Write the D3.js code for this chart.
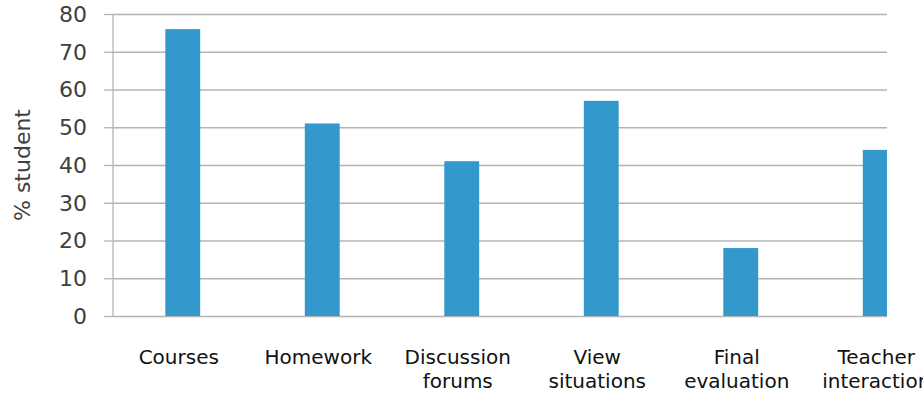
<!DOCTYPE html>
<html>
<head>
<meta charset="utf-8">
<script src="https://unpkg.com/d3@7/dist/d3.min.js"></script>
<style>
  body { margin: 0; background: #fff; }
  svg { display: block; }
</style>
</head>
<body>
<svg id="chart"></svg>
<script>
// categories and % of students
const categories = [
  ["Courses"],
  ["Homework"],
  ["Discussion", "forums"],
  ["View", "situations"],
  ["Final", "evaluation"],
  ["Teacher", "interaction"]
]
const values = [76, 51, 41, 57, 18, 44]
const yTicks = [0, 10, 20, 30, 40, 50, 60, 70, 80]

const width = 923
const height = 411
const plotLeft = 113
const plotTop = 14
const plotBottom = 316
// plot is cut at the right edge of the picture
const plotRight = 950
const clipRight = 887

const svg = d3.select('#chart')
    .attr('width', width)
    .attr('height', height)

const x = d3.scaleBand()
    .domain(d3.range(categories.length))
    .range([plotLeft, plotRight])
    .paddingInner(0.75)
    .paddingOuter(0.375)

const y = d3.scaleLinear()
    .domain([0, 80])
    .range([plotBottom, plotTop])

svg.append('defs').append('clipPath')
    .attr('id', 'plot-clip')
    .append('rect')
    .attr('x', 0)
    .attr('y', 0)
    .attr('width', clipRight)
    .attr('height', height)

const plot = svg.append('g').attr('clip-path', 'url(#plot-clip)')

// gridlines
plot.append('g')
    .attr('transform', `translate(${plotLeft},0)`)
    .call(d3.axisLeft(y).tickValues(yTicks).tickSize(-(plotRight - plotLeft)).tickFormat(''))
    .call(g => g.select('.domain').remove())
    .call(g => g.selectAll('line').attr('stroke', '#b4b4b4').attr('stroke-width', 1.3))

// outward tick marks
plot.append('g')
    .attr('transform', `translate(${plotLeft},0)`)
    .call(d3.axisLeft(y).tickValues(yTicks).tickSize(9).tickFormat(''))
    .call(g => g.select('.domain').remove())
    .call(g => g.selectAll('line').attr('stroke', '#b4b4b4').attr('stroke-width', 1.3))

// bars
plot.selectAll('rect.bar')
    .data(values)
    .enter().append('rect')
    .attr('class', 'bar')
    .attr('x', (d, i) => x(i))
    .attr('y', d => y(d))
    .attr('width', x.bandwidth())
    .attr('height', d => y(0) - y(d))
    .attr('fill', '#3399cc')

// y axis line
svg.append('line')
    .attr('x1', plotLeft).attr('x2', plotLeft)
    .attr('y1', y(80)).attr('y2', y(0))
    .attr('stroke', '#b4b4b4')
    .attr('stroke-width', 1.3)

// y tick labels
svg.append('g')
    .selectAll('text')
    .data(yTicks)
    .enter().append('text')
    .attr('x', 87)
    .attr('y', d => y(d))
    .attr('dy', '0.36em')
    .attr('text-anchor', 'end')
    .attr('fill', '#404040')
    .style('font', '22px "DejaVu Sans", Verdana, sans-serif')
    .text(d => d)

// y title
svg.append('text')
    .attr('transform', `translate(30,165) rotate(-90)`)
    .attr('text-anchor', 'middle')
    .attr('fill', '#404040')
    .style('font', '22px "DejaVu Sans", Verdana, sans-serif')
    .text('% student')

// category labels
const labels = svg.append('g')
    .selectAll('text')
    .data(categories)
    .enter().append('text')
    .attr('x', (d, i) => x(i) + x.bandwidth() / 2 - 4)
    .attr('y', 364)
    .attr('text-anchor', 'middle')
    .attr('fill', '#111')
    .style('font', '20px "DejaVu Sans", Verdana, sans-serif')

labels.selectAll('tspan')
    .data(d => d)
    .enter().append('tspan')
    .attr('x', function() { return this.parentNode.getAttribute('x') })
    .attr('dy', (d, i) => i === 0 ? 0 : 24)
    .text(d => d)
</script>
</body>
</html>
